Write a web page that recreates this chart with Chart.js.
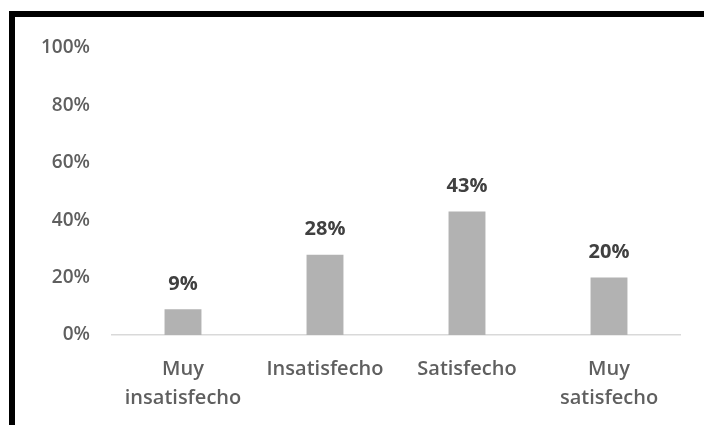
<!DOCTYPE html>
<html>
<head>
<meta charset="utf-8">
<script src="https://cdn.jsdelivr.net/npm/chart.js@4.4.1/dist/chart.umd.min.js"></script>
<style>
  html, body { margin: 0; padding: 0; background: #fff; }
  #frame {
    position: absolute; left: 9px; top: 11px; width: 695px; height: 414px;
    border-top: 6px solid #000; border-left: 6px solid #000;
    box-sizing: border-box;
  }
  #wrap { position: absolute; left: 0; top: 0; width: 704px; height: 425px; }
  canvas { filter: blur(0.7px); }
</style>
</head>
<body>
<div id="frame"></div>
<div id="wrap"><canvas id="satChart" width="704" height="425"></canvas></div>
<script>
// -----------------------------
// Data
// -----------------------------
const categories = [["Muy", "insatisfecho"], "Insatisfecho", "Satisfecho", ["Muy", "satisfecho"]];
const percentages = [9, 28, 43, 20];
const yTicks = [0, 20, 40, 60, 80, 100];

const FONT = "'Open Sans', sans-serif";

// Value labels above each bar
const barValueLabels = {
  id: "barValueLabels",
  afterDatasetsDraw(chart) {
    const { ctx } = chart;
    const meta = chart.getDatasetMeta(0);
    ctx.save();
    ctx.font = "bold 20px " + FONT;
    ctx.fillStyle = "#404040";
    ctx.textAlign = "center";
    ctx.textBaseline = "middle";
    meta.data.forEach((bar, i) => {
      ctx.fillText(percentages[i] + "%", bar.x, bar.y - 25);
    });
    ctx.restore();
  }
};

document.addEventListener("DOMContentLoaded", () => {
  const ctx = document.getElementById("satChart");

  new Chart(ctx, {
    type: "bar",
    data: {
      labels: categories,
      datasets: [{
        data: percentages,
        backgroundColor: "#b2b2b2",
        borderWidth: 0,
        categoryPercentage: 1,
        barPercentage: 0.26
      }]
    },
    options: {
      responsive: false,
      animation: false,
      layout: { padding: { top: 48, right: 24, left: 0, bottom: 0 } },
      plugins: {
        legend: { display: false },
        tooltip: { enabled: false }
      },
      scales: {
        x: {
          grid: { display: false, drawTicks: false },
          border: { display: true, color: "#d9d9d9", width: 1.5 },
          ticks: {
            color: "#5f5f5f",
            font: { family: FONT, size: 20, weight: "600", lineHeight: 1.45 },
            padding: 20,
            maxRotation: 0,
            autoSkip: false
          },
          afterFit: scale => { scale.height = 425 - 335; }
        },
        y: {
          min: 0,
          max: 100,
          afterBuildTicks: scale => { scale.ticks = yTicks.map(v => ({ value: v })); },
          grid: { display: false, drawTicks: false },
          border: { display: false },
          ticks: {
            color: "#5f5f5f",
            font: { family: FONT, size: 19, weight: "600" },
            padding: 22,
            callback: v => v + "%"
          },
          afterFit: scale => { scale.width = 112; }
        }
      }
    },
    plugins: [barValueLabels]
  });
});
</script>
</body>
</html>
